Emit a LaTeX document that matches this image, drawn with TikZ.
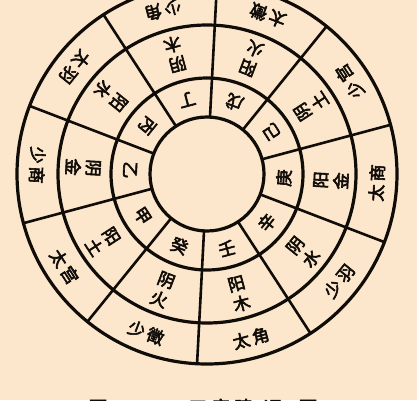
\documentclass[tikz,border=0pt]{standalone}
\usepackage{fontspec}
\newfontfamily\cjk{Noto Sans CJK SC}[FakeBold=3.5]
\definecolor{paper}{RGB}{252,231,204}
\definecolor{ink}{RGB}{16,12,8}
\begin{document}
\begin{tikzpicture}[x=1pt,y=1pt,
  ring/.style={draw=ink,line width=3.2pt},
  spoke/.style={draw=ink,line width=2.6pt},
  lbl/.style={font=\cjk\fontsize{17}{20.5}\selectfont,text=ink,inner sep=0pt,align=center},
  captxt/.style={font=\cjk\fontsize{19}{19}\selectfont,text=ink,inner sep=0pt,anchor=base}]
\fill[paper] (0,0) rectangle (417,400);
\useasboundingbox (0,0) rectangle (417,400);
\coordinate (C) at (207,226);
\foreach \r in {190,149,96,57} \draw[ring] (C) circle[radius=\r];
\foreach \a in {15,51,...,339} \draw[spoke] ([shift={(\a:57)}]C) -- ([shift={(\a:190)}]C);
\foreach \a/\i/\m/\M/\o/\O [count=\k] in {
  105/丁/阴/木/少/角, 69/戊/阳/火/太/徵, 33/己/阴/土/少/宫,
  -3/庚/阳/金/太/商, -39/辛/阴/水/少/羽, -75/壬/阳/木/太/角,
  -111/癸/阴/火/少/徵, -147/甲/阳/土/太/宫, 177/乙/阴/金/少/商,
  141/丙/阳/水/太/羽}{
  \node[lbl,rotate=\a+90] (in\k) at ([shift={(\a:77)}]C) {\i};
  \node[lbl,rotate=\a+90] (mid\k) at ([shift={(\a:124)}]C) {\m\\\M};
  \node[lbl,rotate=\a+90] (out\k) at ([shift={(\a:170)}]C) {\o\hspace{3pt}\O};
}
\node[captxt] (cap0) at (98,-15) {图};
\foreach \x/\t [count=\k] in {198/五,221/音,244/建,273/运,308/图}
  \node[captxt] (cap\k) at (\x,-15) {\t};
\end{tikzpicture}
\end{document}
